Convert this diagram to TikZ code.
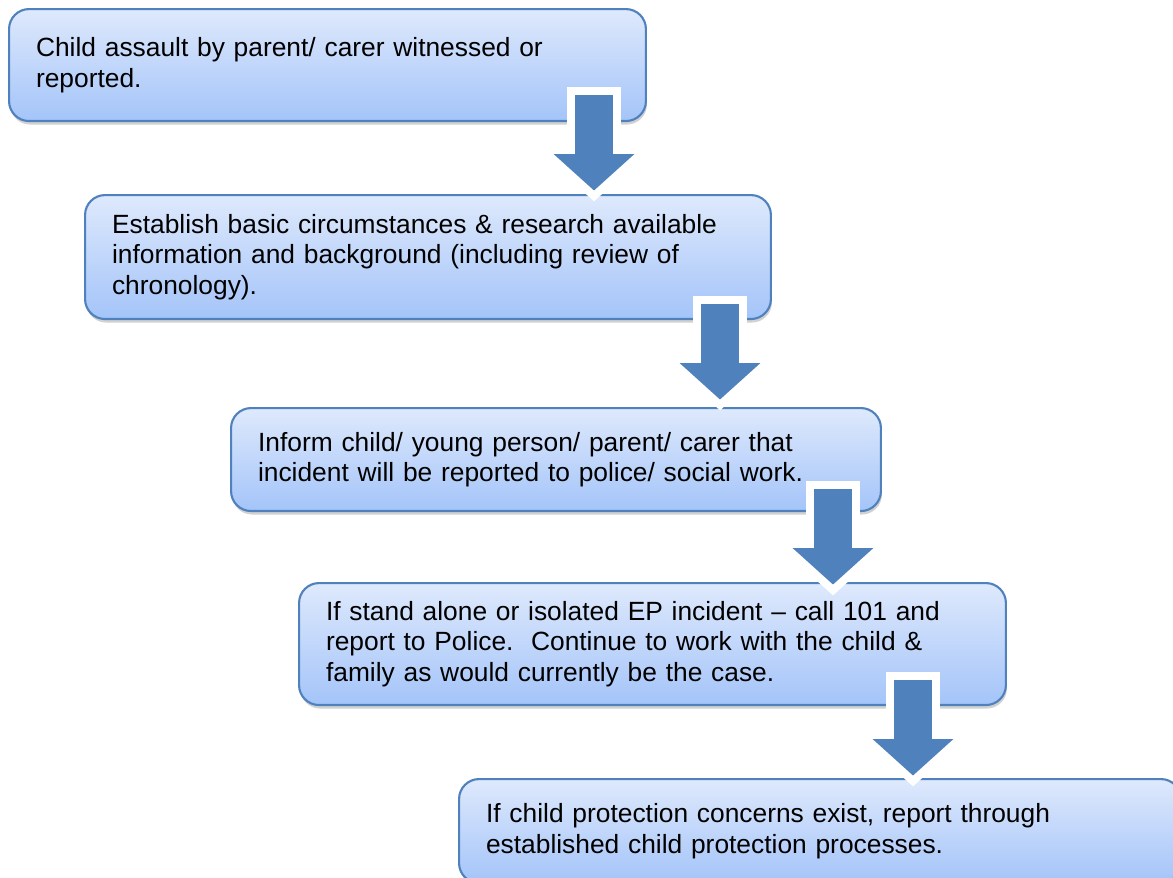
\documentclass[tikz,border=0pt]{standalone}
\usepackage{fontspec}
\setmainfont{Liberation Sans}
\usetikzlibrary{shadows}
\definecolor{boxtop}{RGB}{222,233,252}
\definecolor{boxbottom}{RGB}{164,196,249}
\definecolor{boxline}{RGB}{79,129,189}
\tikzset{
	stepbox/.style={draw=boxline, line width=1.2pt, rounded corners=0.4cm,
		top color=boxtop, bottom color=boxbottom, anchor=north west,
		inner xsep=0.54cm, inner ysep=0pt, align=left,
		font=\fontsize{15}{17.4}\selectfont,
		drop shadow={shadow xshift=0.02cm, shadow yshift=-0.07cm, opacity=0.3, fill=black!60}},
	flowarrow/.style={draw=white, line width=4.5pt, fill=boxline, line join=miter}
}
% block arrow: centre x, top y (pixel units)
\newcommand{\blockarrow}[2]{\draw[flowarrow] (#1-23,#2+4) -- (#1+23,#2+4) -- (#1+23,#2+63)
	-- (#1+51,#2+63) -- (#1,#2+109) -- (#1-51,#2+63) -- (#1-23,#2+63) -- cycle;}

\begin{document}
\begin{tikzpicture}[x=0.02cm, y=-0.02cm]
			%%%%% START %%%%%
			\useasboundingbox (0,0) rectangle (1173,877);
			
			\node[stepbox, text width=11.66cm, minimum height=2.24cm] (witnessed) at (8,8)
				{Child assault by parent/ carer witnessed or\\reported.};
			\node[stepbox, text width=12.64cm, minimum height=2.48cm] (circumstances) at (84,194)
				{Establish basic circumstances \& research available\\information and background (including review of\\chronology).};
			\node[stepbox, text width=11.92cm, minimum height=2.06cm] (inform) at (230,407)
				{Inform child/ young person/ parent/ carer that\\incident will be reported to police/ social work.};
			\node[stepbox, text width=13.06cm, minimum height=2.44cm] (standalone) at (298,582)
				{If stand alone or isolated EP incident -- call 101 and\\report to Police.\ \ Continue to work with the child \&\\family as would currently be the case.};
			\node[stepbox, text width=13.36cm, minimum height=2.08cm] (protection) at (458,778)
				{If child protection concerns exist, report through\\established child protection processes.};
			
			\blockarrow{594}{87}
			\blockarrow{720}{296}
			\blockarrow{833}{481}
			\blockarrow{913}{672}
			
			%%%%% END %%%%%
\end{tikzpicture}
\end{document}
